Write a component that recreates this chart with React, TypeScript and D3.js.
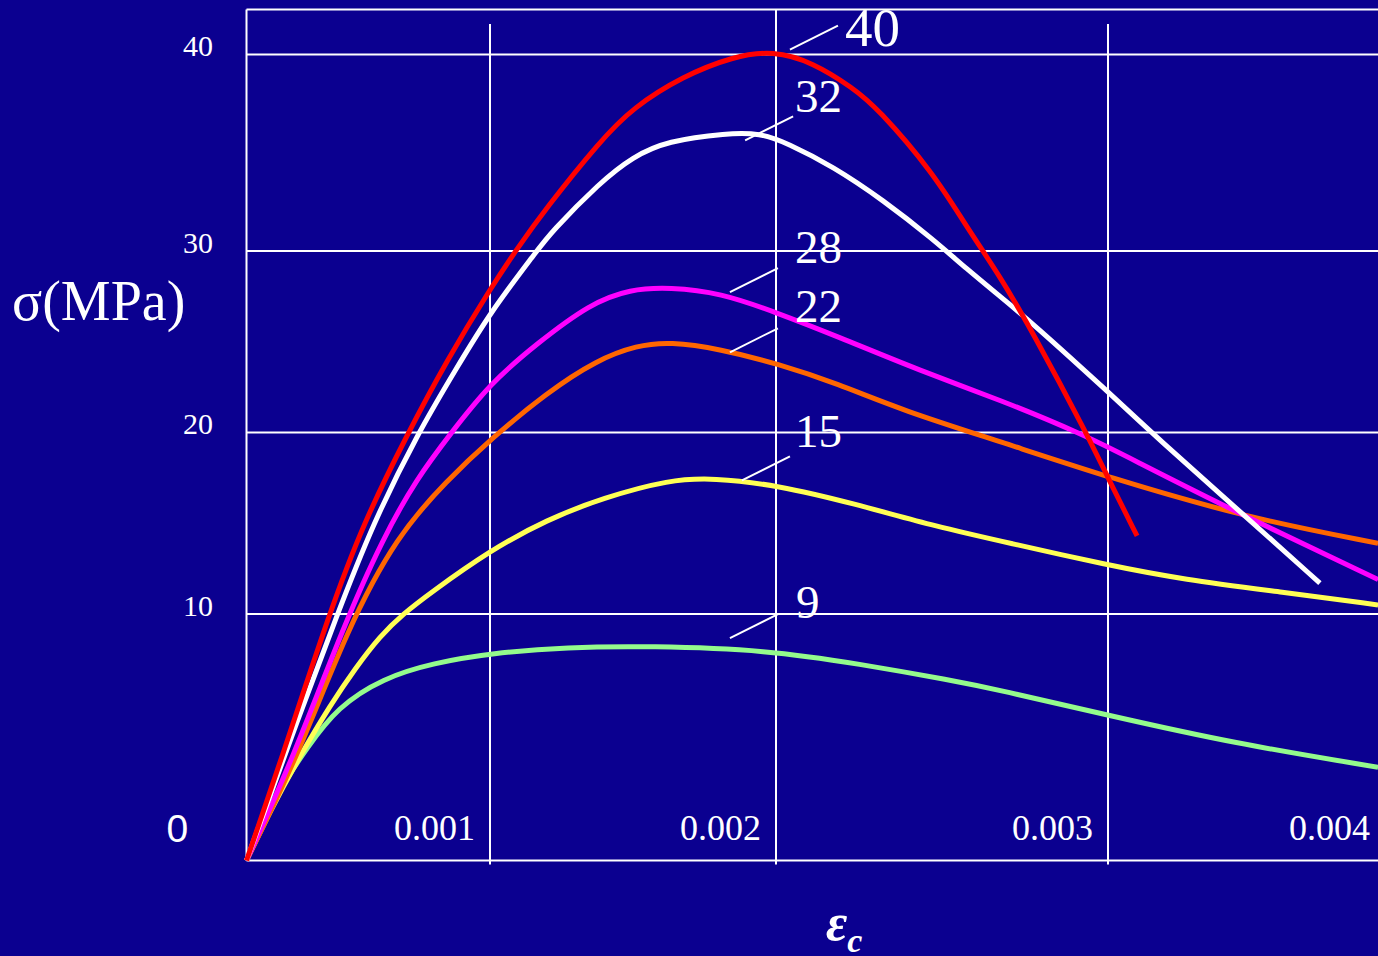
import { useRef, useEffect } from "react";
import * as d3 from "d3";

// tick values as printed on the slide
const strainTicks = [0.001, 0.002, 0.003, 0.004];
const strainTickLabels = ["0.001", "0.002", "0.003", "0.004"];
const stressTicks = [10, 20, 30, 40];
const stressTickLabels = ["10", "20", "30", "40"];

// curve labels (concrete grade) and colours
const curveNames = ["9", "15", "22", "28", "32", "40"];
const curveColors = ["#94fb8c", "#ffff55", "#ff6600", "#ff00ff", "#ffffff", "#ff0000"];

// strain (x 1e-3) / stress (MPa)
const strain9 = [0, 0.131, 0.25, 0.373, 0.561, 0.766, 1.007, 1.269, 1.559, 1.969, 2.253, 2.524, 2.675, 3.0, 3.451, 3.975];
const stress9 = [0, 2.85, 4.59, 6.22, 7.4, 8.01, 8.41, 8.66, 8.7, 8.54, 7.97, 7.32, 6.91, 5.89, 4.76, 3.78];

const strain15 = [0, 0.098, 0.221, 0.344, 0.447, 0.549, 0.643, 0.754, 1.0, 1.199, 1.395, 1.629, 1.78, 2.003, 2.232, 2.485, 2.705, 2.997, 3.271, 3.632, 3.975];
const stress15 = [0, 2.03, 4.27, 6.3, 7.8, 9.11, 10.0, 11.15, 13.5, 15.2, 16.4, 17.4, 17.5, 17.1, 16.1, 14.8, 13.9, 12.7, 11.9, 11.2, 10.5];

const strain22 = [0, 0.205, 0.414, 0.619, 0.824, 1.0, 1.199, 1.374, 1.514, 1.629, 1.804, 2.003, 2.184, 2.383, 2.675, 3.007, 3.502, 3.975];
const stress22 = [0, 4.1, 9.4, 14.34, 17.36, 19.6, 22.2, 24.0, 24.8, 25.0, 24.6, 23.8, 22.7, 21.2, 19.5, 17.5, 15.3, 13.9];

const strain28 = [0, 0.189, 0.398, 0.561, 0.701, 0.836, 1.0, 1.164, 1.35, 1.49, 1.629, 1.804, 2.003, 2.184, 2.434, 2.675, 2.925, 3.09, 3.451, 3.975];
const stress28 = [0, 4.1, 9.5, 14.2, 17.5, 19.9, 22.7, 24.9, 27.1, 27.9, 28.0, 27.7, 26.6, 25.3, 23.4, 21.8, 19.9, 18.5, 15.7, 11.9];

const strain32 = [0, 0.18, 0.373, 0.52, 0.701, 0.865, 1.0, 1.164, 1.21, 1.385, 1.5, 1.619, 1.829, 1.944, 2.033, 2.172, 2.322, 2.473, 2.575, 2.675, 2.774, 2.997, 3.177, 3.502, 3.765];
const stress32 = [0, 4.9, 10.0, 15.0, 19.9, 23.6, 26.6, 30.0, 30.9, 33.5, 34.8, 35.6, 36.0, 36.0, 35.5, 34.3, 32.6, 30.6, 29.0, 27.5, 26.0, 22.3, 19.7, 15.3, 11.7];

const strain40 = [0, 0.143, 0.344, 0.48, 0.66, 0.824, 1.0, 1.094, 1.192, 1.385, 1.5, 1.675, 1.85, 1.99, 2.111, 2.232, 2.304, 2.473, 2.575, 2.675, 2.774, 2.937, 3.0, 3.105];
const stress40 = [0, 4.1, 10.2, 15.0, 19.9, 24.0, 27.9, 30.1, 32.1, 35.6, 37.3, 38.9, 39.9, 40.2, 39.6, 38.3, 37.3, 34.0, 31.2, 28.6, 25.5, 19.9, 17.5, 14.3];

const curveStrains = [strain9, strain15, strain22, strain28, strain32, strain40];
const curveStresses = [stress9, stress15, stress22, stress28, stress32, stress40];

// where each label's leader leaves its curve, and where the label sits
const leaderStrain = [1.839, 1.881, 1.839, 1.839, 1.892, 2.042];
const leaderStress = [9.02, 17.36, 24.42, 27.73, 35.63, 40.25];
const labelStrain = [2.06, 2.057, 2.057, 2.057, 2.057, 2.208];
const labelStress = [9.84, 19.18, 26.08, 29.34, 37.06, 40.41];

function App() {
  const svgRef = useRef<SVGSVGElement>(null);

  useEffect(() => {
    const w = 1378;
    const h = 956;
    const serif = "'Liberation Serif', 'Times New Roman', serif";

    const svg = d3
      .select(svgRef.current)
      .attr("width", w)
      .attr("height", h)
      .style("position", "absolute")
      .style("left", 0)
      .style("top", 0)
      .style("background-color", "#0b0090");
    svg.selectAll("*").remove();

    // the slide's grid is hand spaced, so both scales are piecewise
    const x = d3
      .scaleLinear()
      .domain([0, ...strainTicks])
      .range([246.5, 490, 776, 1108, 1385]);
    const y = d3
      .scaleLinear()
      .domain([0, ...stressTicks])
      .range([860.5, 614, 432.5, 251, 54.5]);

    const line = d3
      .line<number[]>()
      .x((d) => x(d[0] / 1000))
      .y((d) => y(d[1]))
      .curve(d3.curveBasis);

    // grid
    const grid = svg.append("g").attr("stroke", "white").attr("stroke-width", 2);
    grid
      .selectAll(".hgrid")
      .data(stressTicks)
      .join("line")
      .attr("x1", x(0))
      .attr("x2", w)
      .attr("y1", (d) => y(d))
      .attr("y2", (d) => y(d));
    grid
      .selectAll(".vgrid")
      .data(strainTicks.slice(0, 3))
      .join("line")
      .attr("x1", (d) => x(d))
      .attr("x2", (d) => x(d))
      .attr("y1", (d, i) => (i === 1 ? 9.5 : 24))
      .attr("y2", y(0) + 4);
    // frame
    grid.append("line").attr("x1", x(0)).attr("x2", w).attr("y1", 9.5).attr("y2", 9.5);
    grid.append("line").attr("x1", x(0)).attr("x2", x(0)).attr("y1", 9.5).attr("y2", y(0));
    grid.append("line").attr("x1", x(0)).attr("x2", w).attr("y1", y(0)).attr("y2", y(0));

    // curves
    svg
      .selectAll(".curve")
      .data(curveNames)
      .join("path")
      .attr("d", (d, i) => line(curveStrains[i].map((s, j) => [s, curveStresses[i][j]])))
      .attr("fill", "none")
      .attr("stroke", (d, i) => curveColors[i])
      .attr("stroke-width", 5);

    // leaders + labels
    svg
      .selectAll(".leader")
      .data(curveNames)
      .join("line")
      .attr("x1", (d, i) => x(leaderStrain[i] / 1000))
      .attr("y1", (d, i) => y(leaderStress[i]))
      .attr("x2", (d, i) => x(leaderStrain[i] / 1000) + 48)
      .attr("y2", (d, i) => y(leaderStress[i]) - 24)
      .attr("stroke", "white")
      .attr("stroke-width", 2);
    svg
      .selectAll(".clabel")
      .data(curveNames)
      .join("text")
      .attr("x", (d, i) => x(labelStrain[i] / 1000))
      .attr("y", (d, i) => y(labelStress[i]))
      .attr("fill", "white")
      .style("font-family", serif)
      .style("font-size", (d) => (d === "40" ? "55px" : "47px"))
      .text((d) => d);

    // tick labels
    svg
      .selectAll(".ylab")
      .data(stressTicks)
      .join("text")
      .attr("x", 213)
      .attr("y", (d) => y(d) + 1.5)
      .attr("text-anchor", "end")
      .attr("fill", "white")
      .style("font-family", serif)
      .style("font-size", "30px")
      .text((d, i) => stressTickLabels[i]);
    svg
      .selectAll(".xlab")
      .data(strainTicks)
      .join("text")
      .attr("x", (d) => x(d) - 15)
      .attr("y", 840)
      .attr("text-anchor", "end")
      .attr("fill", "white")
      .style("font-family", serif)
      .style("font-size", "36px")
      .text((d, i) => strainTickLabels[i]);
    svg
      .append("text")
      .attr("x", x(0) - 80)
      .attr("y", 842)
      .attr("fill", "white")
      .style("font-family", "'Liberation Sans', Arial, sans-serif")
      .style("font-size", "39px")
      .text("0");

    // axis titles
    svg
      .append("text")
      .attr("x", 12)
      .attr("y", 320)
      .attr("fill", "white")
      .style("font-family", serif)
      .style("font-size", "56px")
      .text("σ(MPa)");
    const eps = svg
      .append("text")
      .attr("x", 826)
      .attr("y", 940)
      .attr("fill", "white")
      .style("font-family", serif)
      .style("font-style", "italic")
      .style("font-weight", "bold");
    eps.append("tspan").style("font-size", "52px").text("ε");
    eps.append("tspan").attr("dy", 12).style("font-size", "34px").text("c");
  }, []);

  return <svg ref={svgRef}></svg>;
}

export default App;
